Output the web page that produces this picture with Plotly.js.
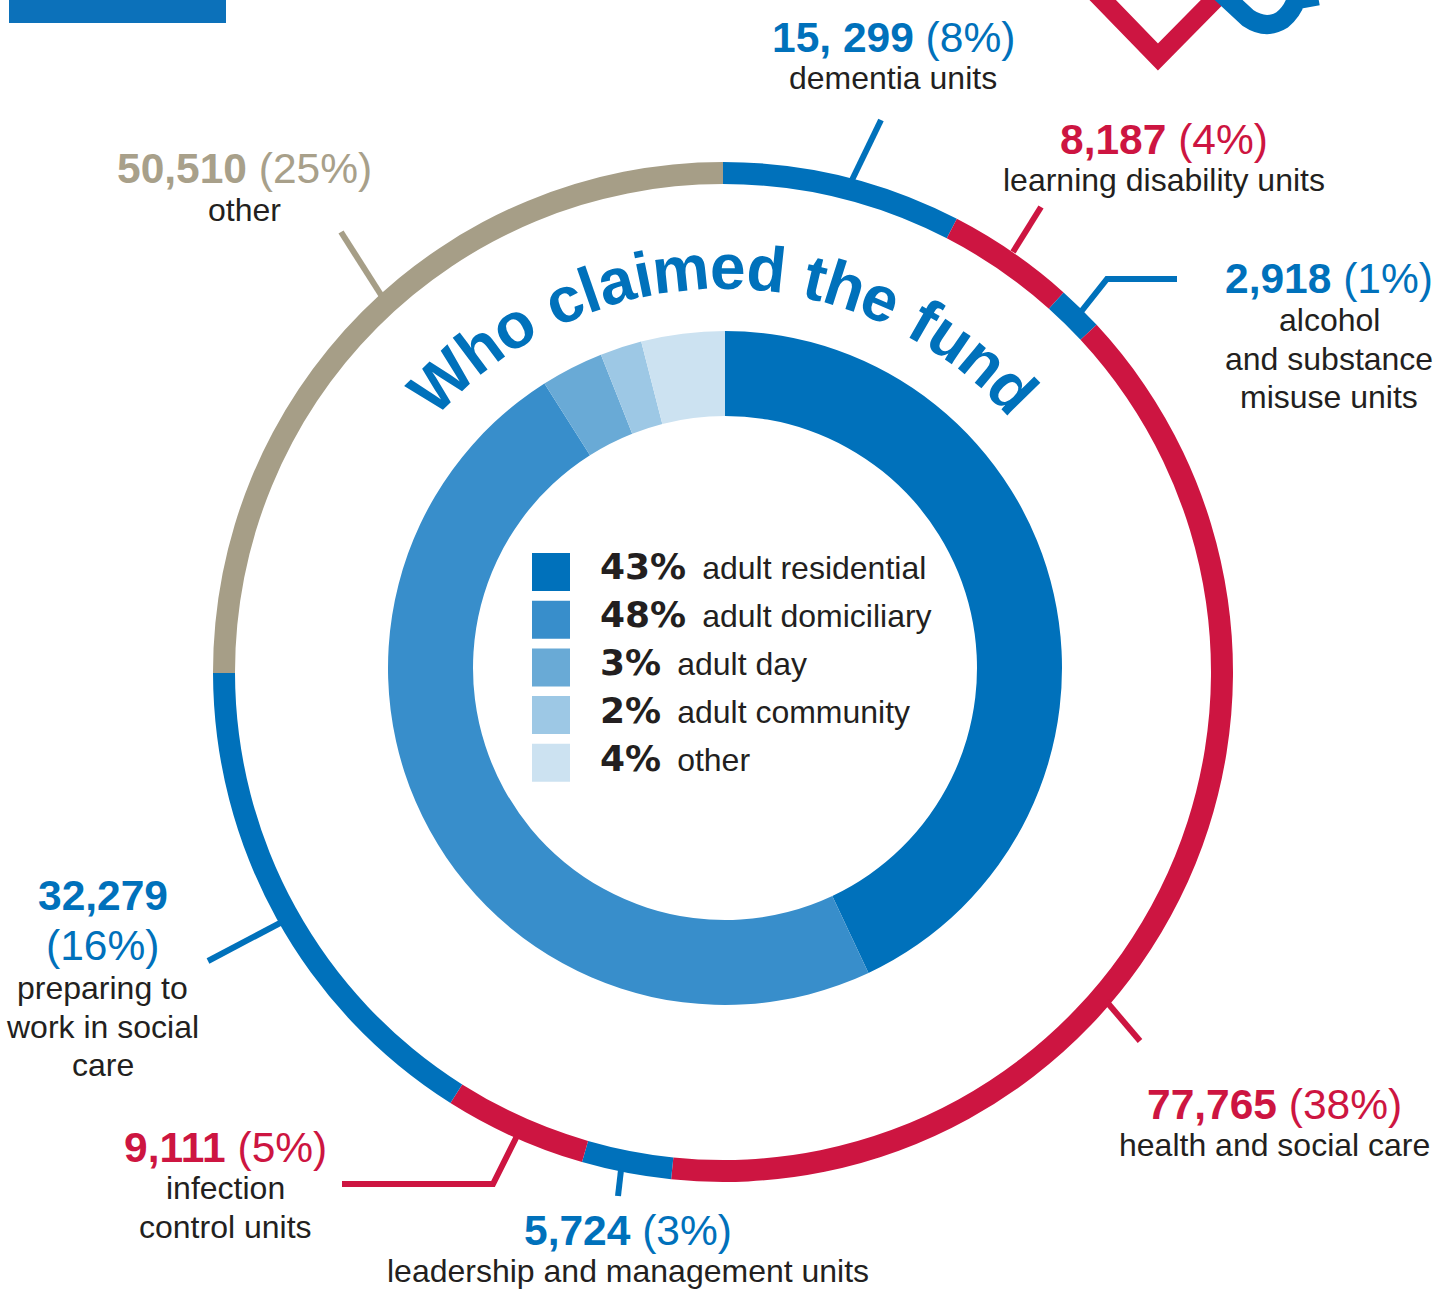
<!DOCTYPE html>
<html>
<head>
<meta charset="utf-8">
<script src="https://cdn.plot.ly/plotly-3.0.1.min.js"></script>
<style>html,body{margin:0;padding:0;background:#fff;}#chart{width:1452px;height:1290px;}</style>
</head>
<body>
<div id="chart"></div>
<script>
// ---------------- DATA ----------------
const outerLabels = ['dementia units', 'learning disability units', 'alcohol<br>and substance<br>misuse units',
  'health and social care', 'leadership and management units', 'infection<br>control units',
  'preparing to<br>work in social<br>care', 'other'];
const outerValues = [15299, 8187, 2918, 77765, 5724, 9111, 32279, 50510];
const outerValueText = ['15, 299', '8,187', '2,918', '77,765', '5,724', '9,111', '32,279', '50,510'];
const outerPercents = [8, 4, 1, 38, 3, 5, 16, 25];

const innerLabels = ['adult residential', 'adult domiciliary', 'adult day', 'adult community', 'other'];
const innerPercents = [43, 48, 3, 2, 4];

const titleText = 'Who claimed the fund';

// ---------------- STYLE ----------------
const W = 1452, H = 1290;
const BLUE = '#0071BB', RED = '#CD1541', TAN = '#A69E87', DARK = '#231F20';
const outerColors = [BLUE, RED, BLUE, RED, BLUE, RED, BLUE, TAN];
const outerTextColors = [BLUE, RED, BLUE, RED, BLUE, RED, BLUE, '#A8A08A'];
const innerColors = ['#0071BB', '#388ECB', '#69AAD6', '#9DC8E5', '#CCE2F1'];
const FONT = '"Liberation Sans", Arial, Helvetica, sans-serif';

const px = x => x / W;
const py = y => 1 - y / H;
const path = pts => pts.map((p, i) => (i ? 'L ' : 'M ') + px(p[0]) + ' ' + py(p[1])).join(' ');

// chart geometry (pixels)
const cx = 723, cy = 672, Rout = 510, ringT = 22;
const icx = 725, icy = 668, Rin = 337, rHole = 252;

// label placement (pixels): centre x, number line y, description first line y
const labelPos = [
  {x: 893, yNum: 37, yDesc: 78},
  {x: 1164, yNum: 139, yDesc: 180},
  {x: 1329, yNum: 279, yDesc: 320},
  {x: 1274, yNum: 1104, yDesc: 1145},
  {x: 628, yNum: 1230, yDesc: 1271},
  {x: 225, yNum: 1147, yDesc: 1188},
  {x: 103, yNum: 895, yPct: 945, yDesc: 988},
  {x: 244, yNum: 168, yDesc: 210}
];
const leaders = [
  [[852, 180], [881, 120]],
  [[1013, 252], [1041, 207]],
  [[1080, 313], [1107, 279], [1177, 279]],
  [[1106, 1001], [1140, 1041]],
  [[621, 1170], [618, 1196]],
  [[517, 1136], [493, 1184], [342, 1184]],
  [[282, 922], [208, 961]],
  [[383, 298], [341, 232]]
];

// ---------------- TRACES ----------------
const traces = [
  {
    type: 'pie', values: outerValues, labels: outerLabels.map(s => s.replace(/<br>/g, ' ')),
    sort: false, direction: 'clockwise', rotation: 0, hole: (Rout - ringT) / Rout,
    domain: {x: [px(cx - Rout), px(cx + Rout)], y: [py(cy + Rout), py(cy - Rout)]},
    marker: {colors: outerColors, line: {width: 0}},
    textinfo: 'none', hoverinfo: 'none', showlegend: false
  },
  {
    type: 'pie', values: innerPercents, labels: innerLabels.map(s => 'inner ' + s),
    sort: false, direction: 'clockwise', rotation: 0, hole: rHole / Rin,
    domain: {x: [px(icx - Rin), px(icx + Rin)], y: [py(icy + Rin), py(icy - Rin)]},
    marker: {colors: innerColors, line: {width: 0}},
    textinfo: 'none', hoverinfo: 'none', showlegend: false
  }
];

// ---------------- ANNOTATIONS ----------------
const annotations = [];
const shapes = [];
const NUMSIZE = 42.5, DESCSIZE = 32, LINEGAP = 38.5;

outerValues.forEach((v, i) => {
  const p = labelPos[i];
  const col = outerTextColors[i];
  const base = {xref: 'paper', yref: 'paper', xanchor: 'center', yanchor: 'middle', showarrow: false,
    font: {family: FONT, size: NUMSIZE, color: col}};
  if (p.yPct) {
    annotations.push(Object.assign({x: px(p.x), y: py(p.yNum), text: '<b>' + outerValueText[i] + '</b>'}, base));
    annotations.push(Object.assign({x: px(p.x), y: py(p.yPct), text: '(' + outerPercents[i] + '%)'}, base));
  } else {
    annotations.push(Object.assign({x: px(p.x), y: py(p.yNum),
      text: '<b>' + outerValueText[i] + '</b> (' + outerPercents[i] + '%)'}, base));
  }
  outerLabels[i].split('<br>').forEach((line, k) => {
    annotations.push({
      x: px(p.x), y: py(p.yDesc + k * LINEGAP), xref: 'paper', yref: 'paper',
      xanchor: 'center', yanchor: 'middle', showarrow: false, text: line,
      font: {family: FONT, size: DESCSIZE, color: DARK}
    });
  });
  shapes.push({type: 'path', xref: 'paper', yref: 'paper', path: path(leaders[i]),
    line: {color: outerColors[i], width: 6}, fillcolor: 'rgba(0,0,0,0)'});
});

// legend inside the inner donut
const sqX0 = 532, sqSize = 38, sqY0 = 572, sqGap = 47.7, txtY0 = 566, txtGap = 48;
innerPercents.forEach((v, i) => {
  const yc = sqY0 + i * sqGap;
  shapes.push({type: 'rect', xref: 'paper', yref: 'paper',
    x0: px(sqX0), x1: px(sqX0 + sqSize), y0: py(yc + sqSize / 2), y1: py(yc - sqSize / 2),
    fillcolor: innerColors[i], line: {width: 0}});
  annotations.push({
    x: px(598), y: py(txtY0 + i * txtGap), xref: 'paper', yref: 'paper', xanchor: 'left', yanchor: 'middle',
    showarrow: false,
    text: '<span style="font-family:\'DejaVu Sans\';font-weight:bold;font-size:36px">' + v + '%</span>\u2002' + innerLabels[i],
    font: {family: FONT, size: 32, color: DARK}
  });
});

// curved title, one character at a time along an arc
const charW = {W: .944, h: .611, o: .611, c: .556, l: .278, a: .556, i: .278, m: .889, e: .556, d: .611,
  t: .333, f: .333, u: .611, n: .611, ' ': .278};
const TS = 64, TR = 405, TEXTRA = 1.0;
const chars = titleText.split('');
const total = chars.reduce((s, c) => s + charW[c] * TS, 0) + TEXTRA * (chars.length - 1);
let pos = -total / 2;
chars.forEach(c => {
  const w = charW[c] * TS;
  const mid = pos + w / 2;
  pos += w + TEXTRA;
  if (c === ' ') return;
  const th = mid / TR;
  annotations.push({
    x: px(cx + TR * Math.sin(th)), y: py(cy - TR * Math.cos(th)), xref: 'paper', yref: 'paper',
    xanchor: 'center', yanchor: 'middle', showarrow: false, text: '<b>' + c + '</b>',
    textangle: th * 180 / Math.PI,
    font: {family: FONT, size: TS, color: BLUE}
  });
});

// decorative header fragments
shapes.push({type: 'rect', xref: 'paper', yref: 'paper', x0: px(9), x1: px(226), y0: py(23), y1: py(-5),
  fillcolor: '#0C71BA', line: {width: 0}});
shapes.push({type: 'path', xref: 'paper', yref: 'paper',
  path: path([[1093, -10], [1158, 57], [1224, -10]]), line: {color: RED, width: 19}, fillcolor: 'rgba(0,0,0,0)'});
shapes.push({type: 'path', xref: 'paper', yref: 'paper',
  path: 'M ' + px(1220) + ' ' + py(-8) + ' L ' + px(1248) + ' ' + py(18) + ' Q ' + px(1266) + ' ' + py(30) + ' ' + px(1282) + ' ' + py(20) +
    ' Q ' + px(1292) + ' ' + py(12) + ' ' + px(1296) + ' ' + py(0) + ' L ' + px(1318) + ' ' + py(-4),
  line: {color: BLUE, width: 19}, fillcolor: 'rgba(0,0,0,0)'});

const layout = {
  width: W, height: H, margin: {l: 0, r: 0, t: 0, b: 0},
  paper_bgcolor: '#fff', plot_bgcolor: '#fff', showlegend: false,
  annotations: annotations, shapes: shapes
};
Plotly.newPlot('chart', traces, layout, {displayModeBar: false, staticPlot: true});
</script>
</body>
</html>
